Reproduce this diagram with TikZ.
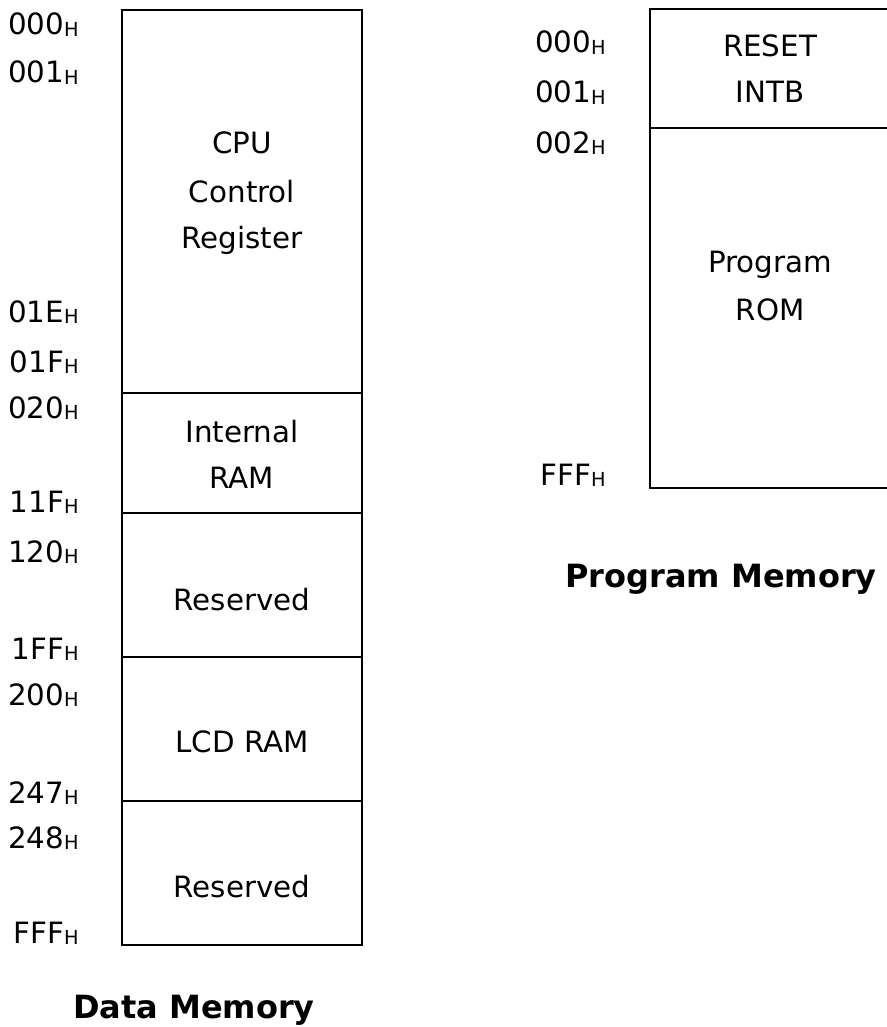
\documentclass[tikz,border=0pt]{standalone}
\usepackage{fontspec}
\setmainfont{DejaVu Sans}

\newcommand{\hexaddr}[1]{#1\raisebox{-1pt}{\fontsize{14.5}{14.5}\selectfont H}}

\begin{document}
\begin{tikzpicture}[x=0.75pt,y=-0.75pt]

\tikzset{
memline/.style={
draw=black,
line width=1.6pt
},
addrlabel/.style={
anchor=base east,
inner sep=0pt,
font=\fontsize{22}{26}\selectfont
},
celltext/.style={
anchor=base,
inner sep=0pt,
font=\fontsize{22}{26}\selectfont
},
memtitle/.style={
anchor=base,
inner sep=0pt,
font=\fontsize{24}{29}\selectfont\bfseries
}
}

\useasboundingbox (0,0) rectangle (887,1027);

%--------------------------------------------------
% DATA MEMORY
%--------------------------------------------------

\draw[memline] (122,10) rectangle (362,945);
\draw[memline] (122,393) -- (362,393);
\draw[memline] (122,513) -- (362,513);
\draw[memline] (122,657) -- (362,657);
\draw[memline] (122,801) -- (362,801);

\node[addrlabel] (d000) at (79,35)  {\hexaddr{000}};
\node[addrlabel] (d001) at (79,83)  {\hexaddr{001}};
\node[addrlabel] (d01E) at (79,322) {\hexaddr{01E}};
\node[addrlabel] (d01F) at (79,372) {\hexaddr{01F}};
\node[addrlabel] (d020) at (79,418) {\hexaddr{020}};
\node[addrlabel] (d11F) at (79,512) {\hexaddr{11F}};
\node[addrlabel] (d120) at (79,562) {\hexaddr{120}};
\node[addrlabel] (d1FF) at (79,659) {\hexaddr{1FF}};
\node[addrlabel] (d200) at (79,705) {\hexaddr{200}};
\node[addrlabel] (d247) at (79,803) {\hexaddr{247}};
\node[addrlabel] (d248) at (79,848) {\hexaddr{248}};
\node[addrlabel] (dFFF) at (79,943) {\hexaddr{FFF}};

\node[celltext] (cpu)      at (242,153) {CPU};
\node[celltext] (control)  at (242,202) {Control};
\node[celltext] (register) at (242,248) {Register};
\node[celltext] (internal) at (242,442) {Internal};
\node[celltext] (iram)     at (242,488) {RAM};
\node[celltext] (resvA)    at (242,610) {Reserved};
\node[celltext] (lcdram)   at (242,752) {LCD RAM};
\node[celltext] (resvB)    at (242,897) {Reserved};

\node[memtitle] (datatitle) at (194,1018) {Data Memory};

%--------------------------------------------------
% PROGRAM MEMORY
%--------------------------------------------------

\draw[memline] (650,9) rectangle (892,488);
\draw[memline] (650,128) -- (892,128);

\node[addrlabel] (p000) at (606,53)  {\hexaddr{000}};
\node[addrlabel] (p001) at (606,103) {\hexaddr{001}};
\node[addrlabel] (p002) at (606,153) {\hexaddr{002}};
\node[addrlabel] (pFFF) at (606,485) {\hexaddr{FFF}};

\node[celltext] (reset)   at (770,57)  {RESET};
\node[celltext] (intb)    at (770,103) {INTB};
\node[celltext] (program) at (770,272) {Program};
\node[celltext] (rom)     at (770,320) {ROM};

\node[memtitle] (progtitle) at (721,587) {Program Memory};

\end{tikzpicture}
\end{document}
